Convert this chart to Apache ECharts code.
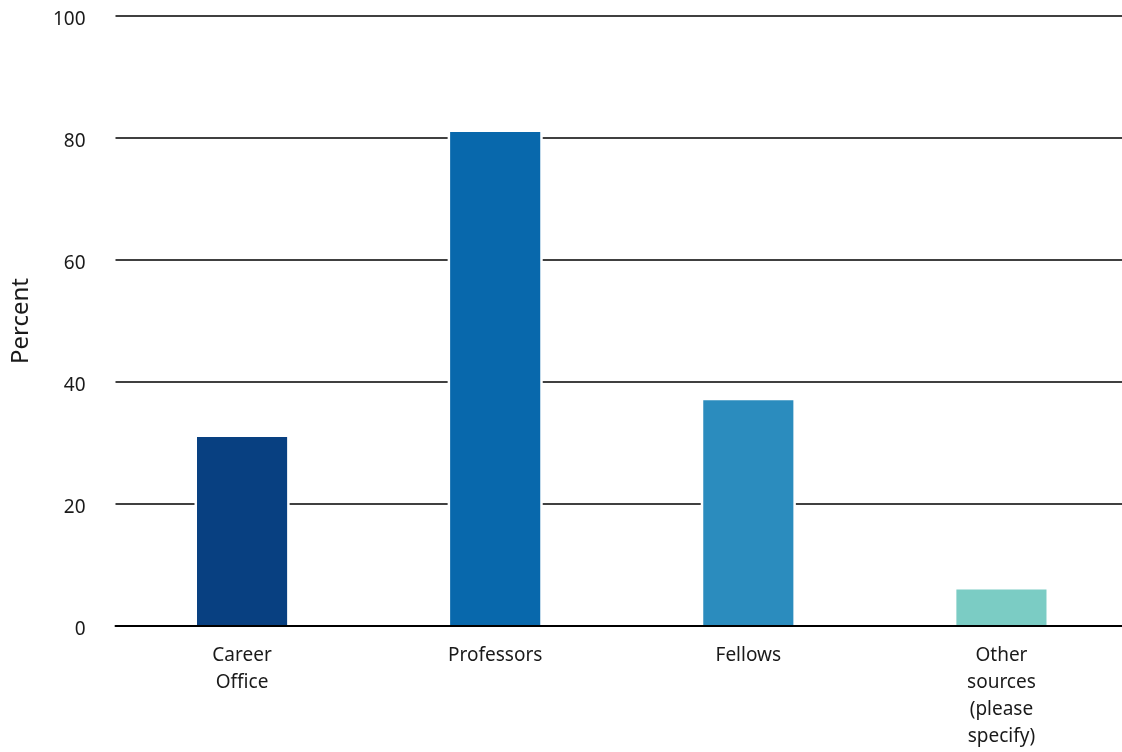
<!DOCTYPE html>
<html>
<head>
<meta charset="utf-8">
<script src="https://cdn.jsdelivr.net/npm/echarts@6/dist/echarts.min.js"></script>
<style>
html,body{margin:0;padding:0;background:#fff;overflow:hidden;width:1122px;height:752px;}
#chart{width:1128px;height:752px;}
</style>
</head>
<body>
<div id="chart"></div>
<script>
const categories = ['Career\nOffice', 'Professors', 'Fellows', 'Other\nsources\n(please\nspecify)'];
const values = [31, 81, 37, 6];
const barColors = ['#084081', '#0868ac', '#2b8cbe', '#7bccc4'];
const yTicks = [0, 20, 40, 60, 80, 100];

const FONT = '"Noto Sans"';
const chart = echarts.init(document.getElementById('chart'), null, {renderer: 'canvas'});
chart.setOption({
  animation: false,
  backgroundColor: '#fff',
  grid: {left: 115.5, right: 0, top: 16, bottom: 126, containLabel: false},
  xAxis: {
    type: 'category',
    data: categories,
    z: 10,
    axisLine: {show: true, lineStyle: {color: '#000', width: 2}},
    axisTick: {show: false},
    axisLabel: {color: '#1a1a1a', fontSize: 19, fontFamily: FONT, lineHeight: 27, margin: 16, interval: 0}
  },
  yAxis: {
    type: 'value',
    min: yTicks[0],
    max: yTicks[yTicks.length - 1],
    interval: 20,
    name: 'Percent',
    nameLocation: 'middle',
    nameGap: 82,
    nameTextStyle: {color: '#1a1a1a', fontSize: 24, fontFamily: FONT},
    axisLine: {show: false},
    axisTick: {show: false},
    axisLabel: {
      color: '#1a1a1a', fontSize: 19, fontFamily: FONT, margin: 30,
      formatter: '{v|{value}}',
      rich: {v: {color: '#1a1a1a', fontSize: 19, fontFamily: FONT, padding: [8, 0, 0, 0]}}
    },
    splitLine: {show: true, lineStyle: {color: '#000', width: 1.5}}
  },
  series: [{
    type: 'custom',
    data: values.map((v, i) => [i, v]),
    encode: {x: 0, y: 1},
    z: 3,
    renderItem: function (params, api) {
      const idx = api.value(0);
      const val = api.value(1);
      const top = api.coord([idx, val]);
      const base = api.coord([idx, 0]);
      const w = api.size([1, 0])[0] * 0.356;
      const pad = 2.5;
      return {
        type: 'group',
        children: [
          {type: 'rect', shape: {x: top[0] - w / 2 - pad, y: top[1] - pad, width: w + 2 * pad, height: base[1] - top[1] + pad}, style: {fill: '#fff'}},
          {type: 'rect', shape: {x: top[0] - w / 2, y: top[1], width: w, height: base[1] - top[1]}, style: {fill: barColors[idx]}}
        ]
      };
    }
  }]
});
</script>
</body>
</html>
